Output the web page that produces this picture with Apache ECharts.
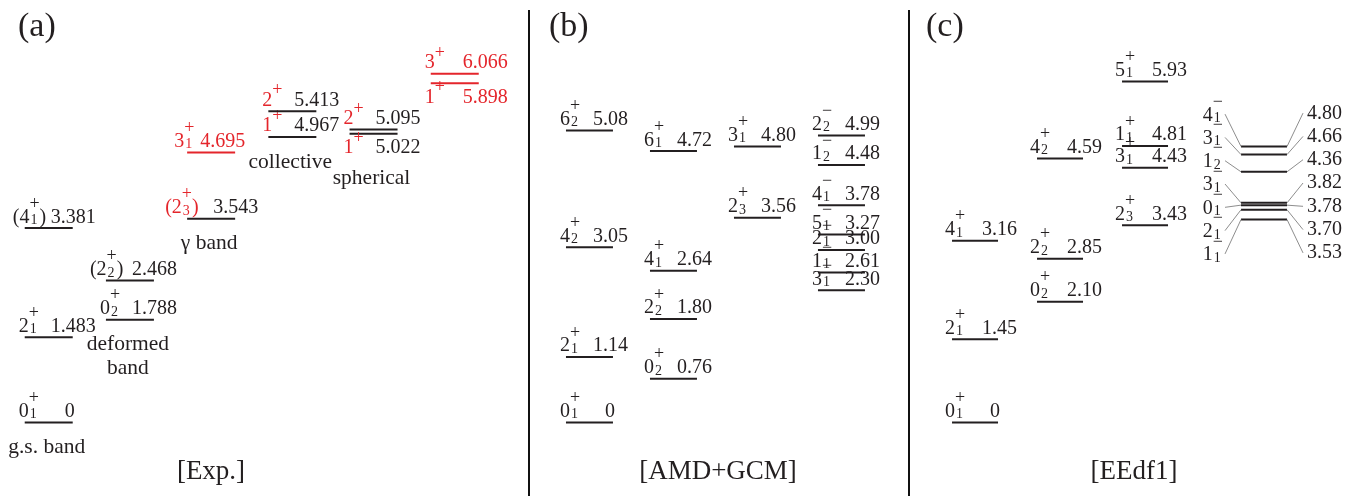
<!DOCTYPE html>
<html>
<head>
<meta charset="utf-8">
<script src="https://cdn.jsdelivr.net/npm/echarts@6/dist/echarts.min.js"></script>
<style>
  html, body { margin: 0; padding: 0; background: #ffffff; }
  #chart { width: 1365px; height: 496px; }
</style>
</head>
<body>
<div id="chart"></div>
<script>
// ---------- level schemes (energies in MeV) ----------
// (a) experiment
const expSpins     = ['0_1^+', '2_1^+', '(4_1^+)', '0_2^+', '(2_2^+)', '(2_3^+)', '3_1^+', '1^+', '2^+', '2^+', '1^+', '3^+', '1^+'];
const expEnergies  = [0, 1.483, 3.381, 1.788, 2.468, 3.543, 4.695, 4.967, 5.413, 5.095, 5.022, 6.066, 5.898];
const expColumns   = [0, 0, 0, 1, 1, 2, 2, 3, 3, 4, 4, 5, 5];
const expHighlight = ['', '', '', '', '', 'spin', 'all', 'spin', 'spin', 'spin', 'spin', 'all', 'all'];
const expBandNames = ['g.s. band', '', '', 'deformed\nband', '', 'γ band', '', 'collective', '', '', 'spherical', '', ''];
const expLabelBelow = [10, 12];

// (b) AMD+GCM
const amdSpins    = ['0_1^+', '2_1^+', '4_2^+', '6_2^+', '0_2^+', '2_2^+', '4_1^+', '6_1^+', '2_3^+', '3_1^+',
                     '3_1^-', '1_1^-', '2_1^-', '5_1^-', '4_1^-', '1_2^-', '2_2^-'];
const amdEnergies = [0, 1.14, 3.05, 5.08, 0.76, 1.80, 2.64, 4.72, 3.56, 4.80,
                     2.30, 2.61, 3.00, 3.27, 3.78, 4.48, 4.99];
const amdColumns  = [0, 0, 0, 0, 1, 1, 1, 1, 2, 2, 3, 3, 3, 3, 3, 3, 3];

// (c) EEdf1
const eedfSpins    = ['0_1^+', '2_1^+', '4_1^+', '0_2^+', '2_2^+', '4_2^+', '2_3^+', '3_1^+', '1_1^+', '5_1^+',
                      '1_1^-', '2_1^-', '0_1^-', '3_1^-', '1_2^-', '3_1^-', '4_1^-'];
const eedfEnergies = [0, 1.45, 3.16, 2.10, 2.85, 4.59, 3.43, 4.43, 4.81, 5.93,
                      3.53, 3.70, 3.78, 3.82, 4.36, 4.66, 4.80];
const eedfColumns  = [0, 0, 0, 1, 1, 1, 2, 2, 2, 2, 3, 3, 3, 3, 3, 3, 3];

const panelLetters = ['(a)', '(b)', '(c)'];
const panelTitles  = ['[Exp.]', '[AMD+GCM]', '[EEdf1]'];

// ---------- drawing ----------
const FONT = '"Liberation Serif", "Times New Roman", serif';
const INK = '#231f20';
const RED = '#e4252b';
const WIRE = '#707070';
const BIG = 20, SUP = 18, SUB = 14, NOTE = 21.5;

const measureCtx = document.createElement('canvas').getContext('2d');
function textWidth(s, size) {
  measureCtx.font = size + 'px ' + FONT;
  return measureCtx.measureText(s).width;
}
// text element placed by its alphabetic baseline
function txt(s, x, baseline, size, color, align) {
  return {
    type: 'text', silent: true,
    style: {
      text: s, x: x, y: baseline - 0.34 * size,
      fill: color, font: size + 'px ' + FONT,
      align: align || 'left', verticalAlign: 'middle'
    }
  };
}
function parseSpin(s) {
  const m = s.match(/^(\(?)(\d)(?:_(\d))?\^([+-])(\)?)$/);
  return { open: m[1], j: m[2], k: m[3] || '', parity: m[4], close: m[5] };
}
// J with stacked sub/superscripts; returns the x where it ends
function drawSpin(out, sp, x, baseline, color) {
  const push = el => { if (out) out.push(el); };
  if (sp.open) { push(txt('(', x, baseline, BIG, color)); x += textWidth('(', BIG); }
  push(txt(sp.j, x, baseline, BIG, color)); x += textWidth(sp.j, BIG);
  const sup = sp.parity === '+' ? '+' : '\u2212';
  push(txt(sup, x, baseline - (sp.k ? 14 : 10.5), SUP, color));
  let w = textWidth(sup, SUP);
  if (sp.k) {
    push(txt(sp.k, x + 1, baseline + 1, SUB, color));
    w = Math.max(w, textWidth(sp.k, SUB) + 1);
  }
  x += w;
  if (sp.close) { push(txt(')', x, baseline, BIG, color)); x += textWidth(')', BIG); }
  return x;
}

// panel geometry: grids and the x position of each column
const panels = [
  { left: 0,   width: 528, xMin: -0.6,   xMax: 5.902, colPos: [0, 1, 2, 3, 4, 5], half: 24,
    decimals: 3, spinDx: -6, valueDx: 26, spinNudge: { 2: -12, 4: -16, 5: -22, 6: -13 }, valueNudge: { 6: 13, 11: 32, 12: 32 },
    lv: { spins: expSpins, energies: expEnergies, columns: expColumns, highlight: expHighlight, notes: expBandNames, below: expLabelBelow } },
  { left: 530, width: 378, xMin: -0.708, xMax: 3.792, colPos: [0, 1, 2, 3], half: 23.5,
    decimals: 2, spinDx: -6, valueDx: 27, spinNudge: {}, valueNudge: {},
    lv: { spins: amdSpins, energies: amdEnergies, columns: amdColumns } },
  { left: 910, width: 455, xMin: -0.765, xMax: 4.588, colPos: [0, 1, 2, 3.4], half: 23,
    decimals: 2, spinDx: -7, valueDx: 30, spinNudge: {}, valueNudge: {}, sideColumn: 3, sideStep: 23.3,
    lv: { spins: eedfSpins, energies: eedfEnergies, columns: eedfColumns } }
];

function makeSeries(k, cfg) {
  const lv = cfg.lv;
  const data = lv.energies.map((e, i) => [cfg.colPos[lv.columns[i]], e, i]);
  // ordering of the side-labelled column (top to bottom)
  const sideIdx = [];
  if (cfg.sideColumn !== undefined) {
    lv.columns.forEach((c, i) => { if (c === cfg.sideColumn) sideIdx.push(i); });
    sideIdx.sort((a, b) => lv.energies[b] - lv.energies[a]);
  }
  const sideE = sideIdx.map(i => lv.energies[i]);
  return {
    type: 'custom', xAxisIndex: k, yAxisIndex: k, data: data, clip: false, animation: false,
    renderItem: function (params, api) {
      const i = api.value(2);
      const E = api.value(1);
      const c = api.coord([api.value(0), E]);
      const x1 = c[0] - cfg.half, x2 = c[0] + cfg.half, y = c[1];
      const hl = (lv.highlight && lv.highlight[i]) || '';
      const lineColor = hl === 'all' ? RED : INK;
      const spinColor = hl ? RED : INK;
      const valColor = hl === 'all' ? RED : INK;
      const kids = [{ type: 'line', silent: true, shape: { x1: x1, y1: y, x2: x2, y2: y },
                      style: { stroke: lineColor, lineWidth: 2 } }];
      const sp = parseSpin(lv.spins[i]);
      const val = E === 0 ? '0' : E.toFixed(cfg.decimals);

      if (cfg.sideColumn !== undefined && lv.columns[i] === cfg.sideColumn) {
        const rank = sideIdx.indexOf(i);
        const yTop = api.coord([0, Math.max.apply(null, sideE)])[1];
        const yBot = api.coord([0, Math.min.apply(null, sideE)])[1];
        const ly = (yTop + yBot) / 2 + (rank - (sideIdx.length - 1) / 2) * cfg.sideStep;
        const w = drawSpin(null, sp, 0, 0, spinColor);
        drawSpin(kids, sp, x1 - 18 - w, ly + 9, spinColor);
        kids.push(txt(val, x2 + 20, ly + 7, BIG, valColor));
        kids.push({ type: 'line', silent: true, shape: { x1: x1 - 16, y1: ly + 1, x2: x1, y2: y },
                    style: { stroke: WIRE, lineWidth: 0.8 } });
        kids.push({ type: 'line', silent: true, shape: { x1: x2, y1: y, x2: x2 + 16, y2: ly },
                    style: { stroke: WIRE, lineWidth: 0.8 } });
        return { type: 'group', children: kids };
      }

      const below = lv.below && lv.below.indexOf(i) >= 0;
      const base = below ? y + 21 : y - 4;
      const sx = x1 + (cfg.spinNudge[i] !== undefined ? cfg.spinNudge[i] : cfg.spinDx);
      drawSpin(kids, sp, sx, base, spinColor);
      if (E === 0) {
        kids.push(txt(val, x2 + 2, base, BIG, valColor, 'right'));
      } else {
        const vx = x1 + (cfg.valueNudge[i] !== undefined ? cfg.valueNudge[i] : cfg.valueDx);
        kids.push(txt(val, vx, base, BIG, valColor));
      }
      const note = lv.notes && lv.notes[i];
      if (note) {
        kids.push({ type: 'text', silent: true,
          style: { text: note, x: c[0] - 2, y: y + (below ? 33 : 13), fill: INK, font: NOTE + 'px ' + FONT,
                   align: 'center', verticalAlign: 'top', lineHeight: 24 } });
      }
      return { type: 'group', children: kids };
    }
  };
}

const chart = echarts.init(document.getElementById('chart'), null, { renderer: 'canvas' });

const graphics = [];
[529, 909].forEach(x => graphics.push({ type: 'line', silent: true,
  shape: { x1: x, y1: 10, x2: x, y2: 496 }, style: { stroke: '#111', lineWidth: 2 } }));
[18, 549, 926].forEach((x, k) => graphics.push({ type: 'text', silent: true, x: x, y: 27,
  style: { text: panelLetters[k], fill: INK, font: '34px ' + FONT, align: 'left', verticalAlign: 'middle' } }));
[211, 718, 1134].forEach((x, k) => graphics.push({ type: 'text', silent: true, x: x, y: 472,
  style: { text: panelTitles[k], fill: INK, font: '27px ' + FONT, align: 'center', verticalAlign: 'middle' } }));

chart.setOption({
  backgroundColor: '#ffffff',
  animation: false,
  grid: panels.map(p => ({ left: p.left, width: p.width, top: 20, height: 460 })),
  xAxis: panels.map((p, k) => ({ type: 'value', gridIndex: k, min: p.xMin, max: p.xMax, show: false })),
  yAxis: panels.map((p, k) => ({ type: 'value', gridIndex: k, min: -1, max: 7, show: false })),
  series: panels.map((p, k) => makeSeries(k, p)),
  graphic: graphics
});
</script>
</body>
</html>
